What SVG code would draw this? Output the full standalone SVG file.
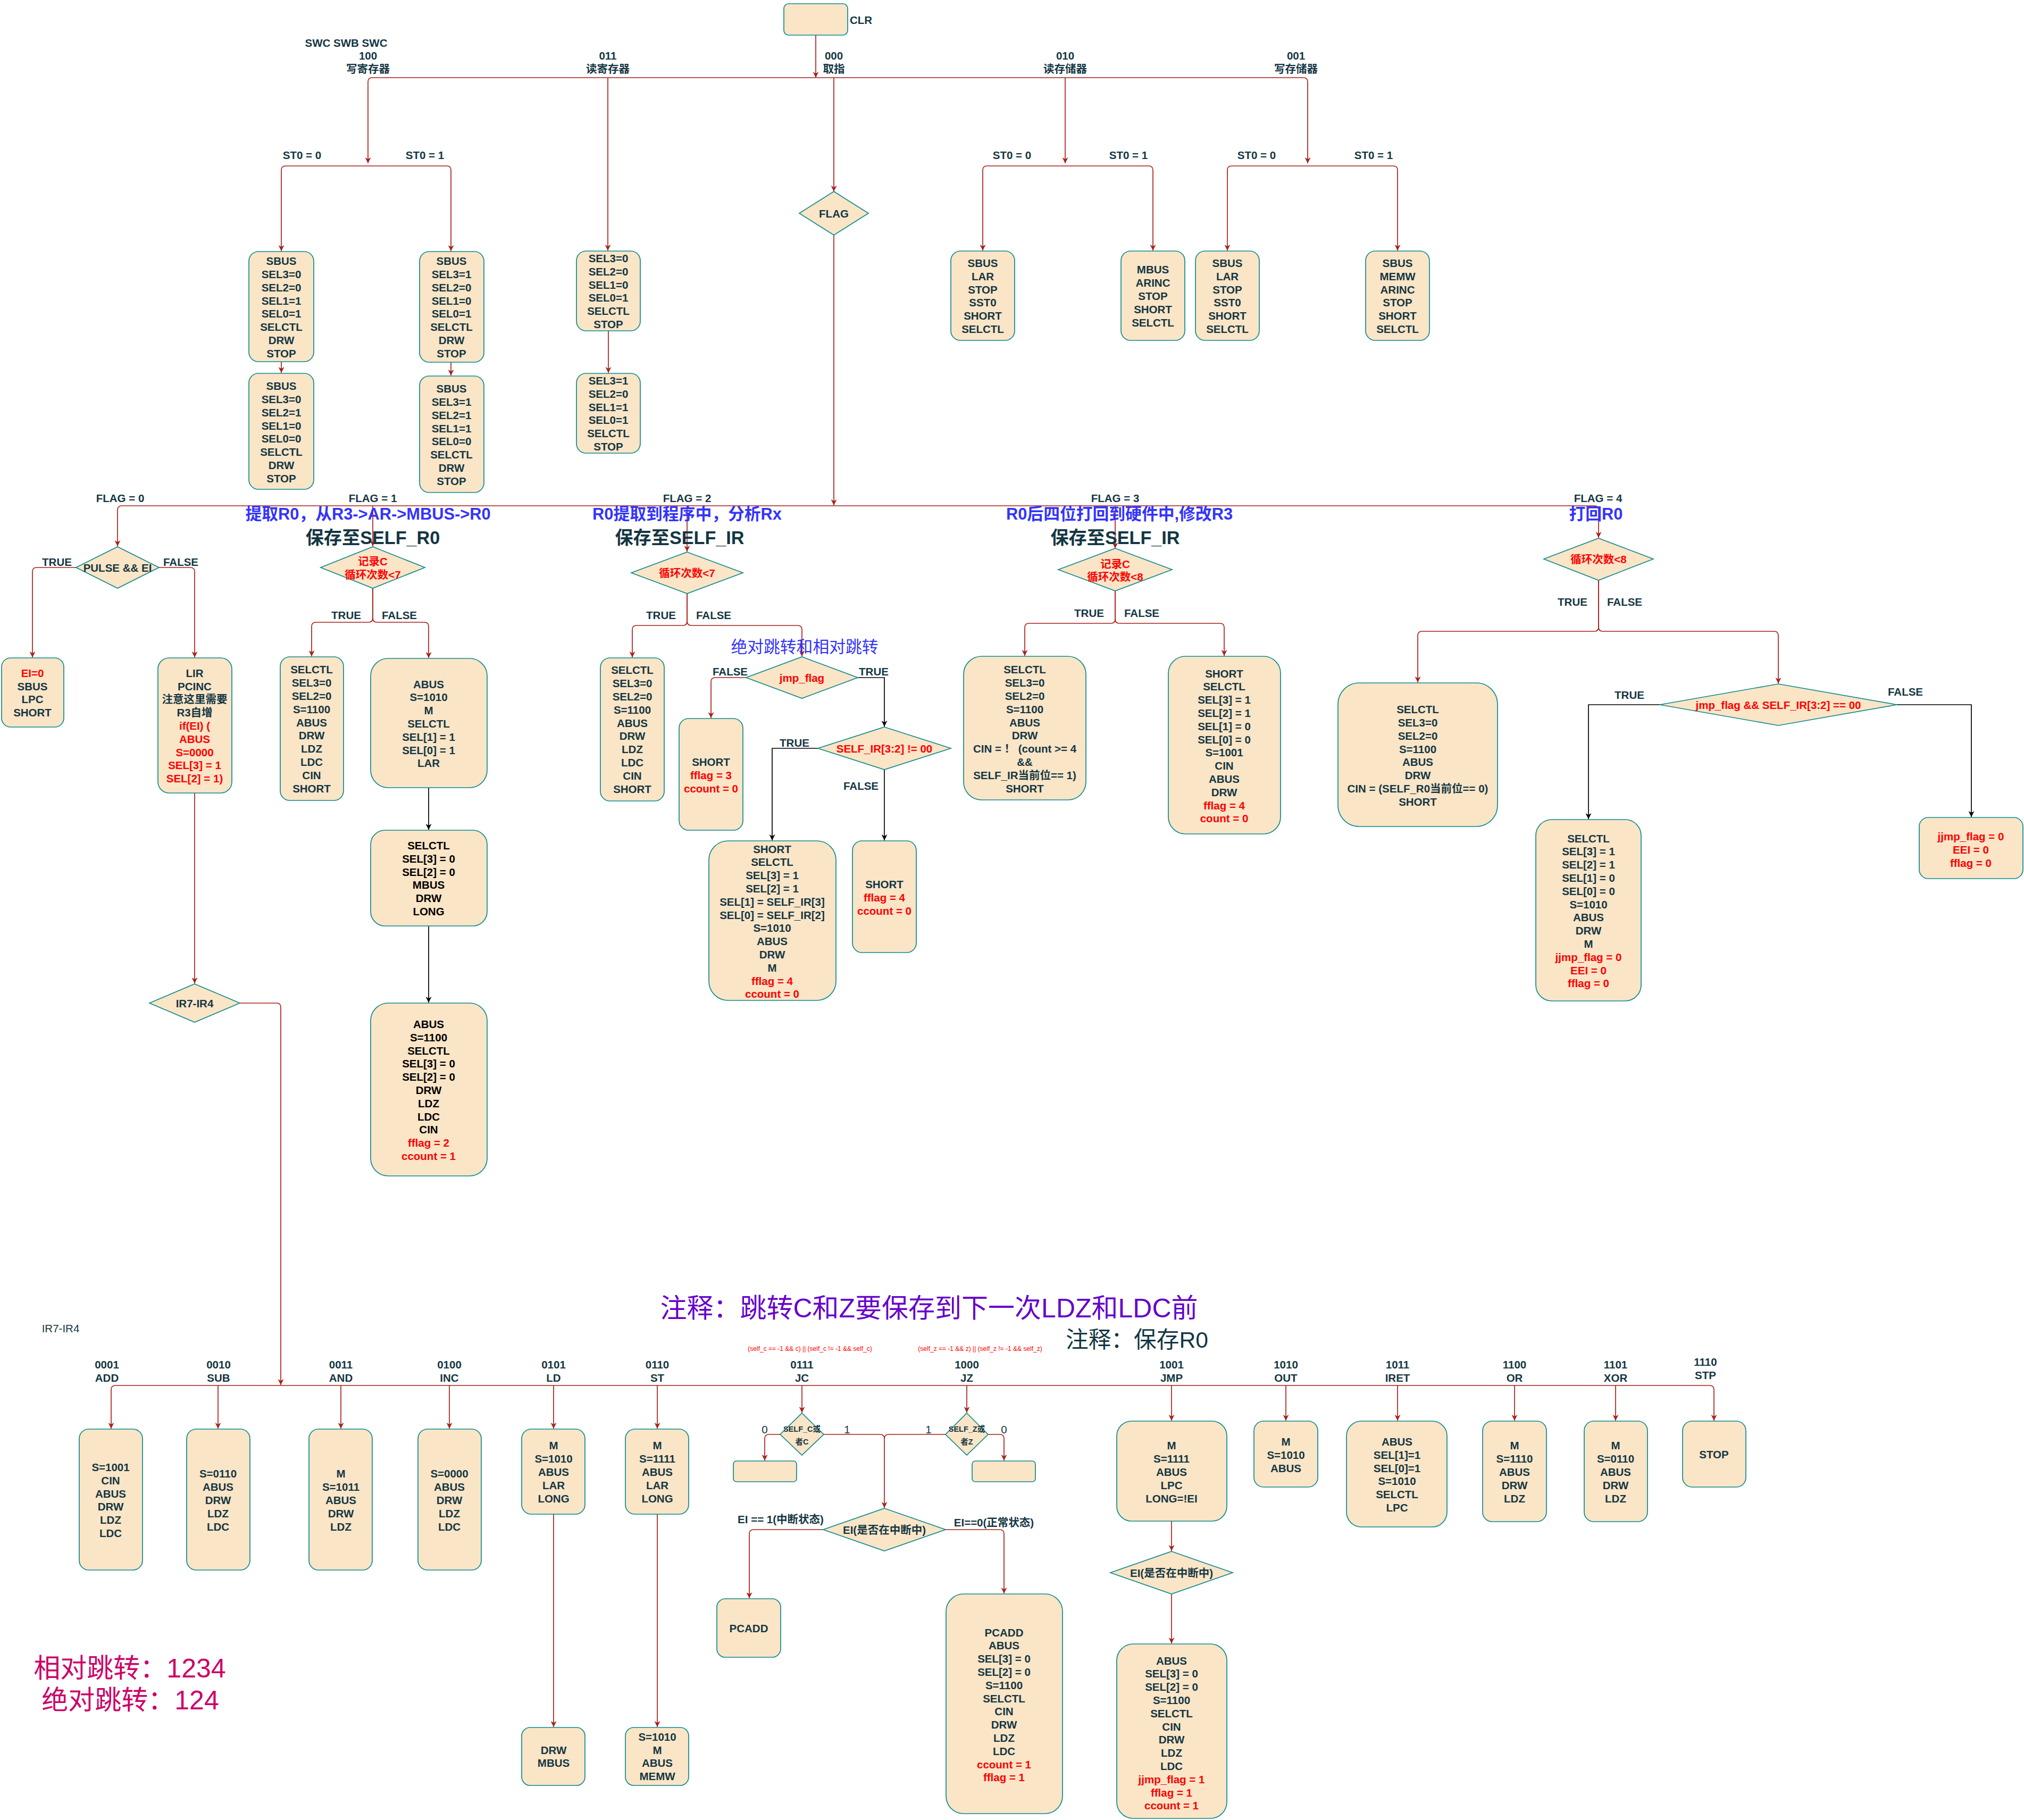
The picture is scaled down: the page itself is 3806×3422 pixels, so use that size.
<svg xmlns="http://www.w3.org/2000/svg" width="3806" height="3422" viewBox="0 0 3806 3422">
<defs>
<marker id="a" viewBox="0 0 10 10" refX="10" refY="5" markerWidth="11" markerHeight="11" markerUnits="userSpaceOnUse" orient="auto"><path d="M0,0 L10,5 L0,10 L3,5 z" fill="#A8201A"/></marker>
<marker id="ab" viewBox="0 0 10 10" refX="10" refY="5" markerWidth="11" markerHeight="11" markerUnits="userSpaceOnUse" orient="auto"><path d="M0,0 L10,5 L0,10 L3,5 z" fill="#000"/></marker>
<style>
.nd rect,.nd polygon{fill:#FAE5C7;stroke:#0F8B8D;stroke-width:1.7}
text,tspan{font-family:"Liberation Sans","Noto Sans CJK SC",sans-serif;font-size:20.5px;font-weight:bold;fill:#143642;text-anchor:middle;dominant-baseline:central}
.red{fill:#FF0000}
.blk{fill:#000}
.rg{font-weight:normal}
.blue{fill:#3333FF;font-size:30.8px}
.big{font-size:34.2px}
.sm{font-size:14.5px}
.e path{fill:none;stroke:#A8201A;stroke-width:1.7;marker-end:url(#a)}
.e path.b{stroke:#000;marker-end:url(#ab)}
.e path.nm{marker-end:none}
</style>
</defs>
<rect width="3806" height="3422" fill="#fff"/>
<g id="connectors" class="e">
<path d="M1534,66 V146"/>
<path d="M1534,146 H700 Q692,146 692,154 V307"/>
<path d="M1534,146 H2451 Q2459,146 2459,154 V307"/>
<path d="M1143,146 V471"/>
<path d="M1568,146 V360"/>
<path d="M2003,146 V307"/>
<path d="M692,312 H537 Q529,312 529,320 V472"/>
<path d="M692,312 H840 Q848,312 848,320 V472"/>
<path d="M2003,312 H1856 Q1848,312 1848,320 V471"/>
<path d="M2003,312 H2160 Q2168,312 2168,320 V471"/>
<path d="M2459,312 H2316 Q2308,312 2308,320 V471"/>
<path d="M2459,312 H2620 Q2628,312 2628,320 V471"/>
<path d="M529,680 V701"/>
<path d="M848,681 V706"/>
<path d="M1144,622 V701"/>
<path d="M1568,442 V950"/>
<path d="M1568,951 H229 Q221,951 221,959 V1027"/>
<path d="M1568,951 H2998 Q3006,951 3006,959 V1011"/>
<path d="M701,951 V1027"/>
<path d="M1292,951 V1037"/>
<path d="M2097,951 V1031"/>
<path d="M143,1067 H69 Q61,1067 61,1075 V1236"/>
<path d="M299,1067 H358 Q366,1067 366,1075 V1236"/>
<path d="M366,1491 V1849"/>
<path d="M451,1886 H520 Q528,1886 528,1894 V2604"/>
<path d="M701,1106 V1162 Q701,1170 693,1170 H594 Q586,1170 586,1178 V1234"/>
<path d="M701,1106 V1162 Q701,1170 709,1170 H798 Q806,1170 806,1178 V1237"/>
<path class="b" d="M806,1481 V1560"/>
<path class="b" d="M806,1741 V1885"/>
<path d="M1292,1116 V1168 Q1292,1176 1284,1176 H1197 Q1189,1176 1189,1184 V1236"/>
<path d="M1292,1116 V1168 Q1292,1176 1300,1176 H1500 Q1508,1176 1508,1184 V1234"/>
<path d="M1403,1274 H1345 Q1337,1274 1337,1282 V1350"/>
<path class="b" d="M1613,1274 H1663 V1366"/>
<path class="b" d="M1538,1407 H1452 V1580"/>
<path class="b" d="M1663,1447 V1580"/>
<path d="M2097,1111 V1164 Q2097,1172 2089,1172 H1935 Q1927,1172 1927,1180 V1233"/>
<path d="M2097,1111 V1164 Q2097,1172 2105,1172 H2294 Q2302,1172 2302,1180 V1233"/>
<path d="M3006,1091 V1179 Q3006,1187 2998,1187 H2674 Q2666,1187 2666,1195 V1283"/>
<path d="M3006,1091 V1179 Q3006,1187 3014,1187 H3336 Q3344,1187 3344,1195 V1285"/>
<path class="b" d="M3121,1325 H2987 V1540"/>
<path class="b" d="M3567,1325 H3707 V1536"/>
<path d="M528,2605 H217 Q209,2605 209,2613 V2686"/>
<path d="M528,2605 H3215 Q3223,2605 3223,2613 V2671"/>
<path d="M410,2605 V2686"/>
<path d="M641,2605 V2686"/>
<path d="M845,2605 V2686"/>
<path d="M1041,2605 V2686"/>
<path d="M1236,2605 V2686"/>
<path d="M1508,2605 V2656"/>
<path d="M1818,2605 V2656"/>
<path d="M2203,2605 V2671"/>
<path d="M2418,2605 V2671"/>
<path d="M2628,2605 V2671"/>
<path d="M2848,2605 V2671"/>
<path d="M3038,2605 V2671"/>
<path d="M1041,2847 V3247"/>
<path d="M1236,2847 V3247"/>
<path d="M1467,2697 H1446 Q1438,2697 1438,2705 V2746"/>
<path d="M1549,2697 H1655 Q1663,2697 1663,2705 V2835"/>
<path class="nm" d="M1778,2697 H1671 Q1663,2697 1663,2705"/>
<path d="M1858,2697 H1880 Q1888,2697 1888,2705 V2746"/>
<path d="M1548,2876 H1417 Q1409,2876 1409,2884 V3005"/>
<path d="M1778,2876 H1880 Q1888,2876 1888,2884 V2996"/>
<path d="M2203,2860 V2916"/>
<path d="M2203,2997 V3090"/>
</g>
<g id="edge-labels">
<text x="568" y="291">ST0 = 0</text><text x="799" y="291">ST0 = 1</text>
<text x="1903" y="291">ST0 = 0</text><text x="2122" y="291">ST0 = 1</text>
<text x="2363" y="291">ST0 = 0</text><text x="2583" y="291">ST0 = 1</text>
<text x="651" y="80">SWC SWB SWC</text><text x="692" y="104">100</text><text x="692" y="129">写寄存器</text>
<text x="1143" y="104">011</text><text x="1143" y="129">读寄存器</text>
<text x="1568" y="104">000</text><text x="1568" y="129">取指</text>
<text x="2003" y="104">010</text><text x="2003" y="129">读存储器</text>
<text x="2437" y="104">001</text><text x="2437" y="129">写存储器</text>
<text x="226" y="936">FLAG = 0</text><text x="701" y="936">FLAG = 1</text><text x="1292" y="936">FLAG = 2</text><text x="2097" y="936">FLAG = 3</text><text x="3005" y="936">FLAG = 4</text>
<text x="107" y="1056">TRUE</text><text x="340" y="1056">FALSE</text>
<text x="651" y="1156">TRUE</text><text x="751" y="1156">FALSE</text>
<text x="1243" y="1156">TRUE</text><text x="1342" y="1156">FALSE</text>
<text x="1373" y="1262">FALSE</text><text x="1643" y="1262">TRUE</text>
<text x="1494" y="1396">TRUE</text><text x="1619" y="1477">FALSE</text>
<text x="2048" y="1152">TRUE</text><text x="2147" y="1152">FALSE</text>
<text x="2957" y="1131">TRUE</text><text x="3055" y="1131">FALSE</text>
<text x="3064" y="1306">TRUE</text><text x="3583" y="1300">FALSE</text>
<text x="201" y="2565">0001</text><text x="201" y="2590">ADD</text>
<text x="411" y="2565">0010</text><text x="411" y="2590">SUB</text>
<text x="641" y="2565">0011</text><text x="641" y="2590">AND</text>
<text x="845" y="2565">0100</text><text x="845" y="2590">INC</text>
<text x="1041" y="2565">0101</text><text x="1041" y="2590">LD</text>
<text x="1236" y="2565">0110</text><text x="1236" y="2590">ST</text>
<text x="1508" y="2565">0111</text><text x="1508" y="2590">JC</text>
<text x="1818" y="2565">1000</text><text x="1818" y="2590">JZ</text>
<text x="2203" y="2565">1001</text><text x="2203" y="2590">JMP</text>
<text x="2418" y="2565">1010</text><text x="2418" y="2590">OUT</text>
<text x="2628" y="2565">1011</text><text x="2628" y="2590">IRET</text>
<text x="2848" y="2565">1100</text><text x="2848" y="2590">OR</text>
<text x="3038" y="2565">1101</text><text x="3038" y="2590">XOR</text>
<text x="3207" y="2560">1110</text><text x="3207" y="2585">STP</text>
<text class="rg" x="1438" y="2687">0</text><text class="rg" x="1593" y="2687">1</text>
<text class="rg" x="1746" y="2687">1</text><text class="rg" x="1888" y="2687">0</text>
<text x="1468" y="2856">EI == 1(中断状态)</text><text x="1869" y="2862">EI==0(正常状态)</text>
</g>
<g id="annotations">
<text class="blue" x="692" y="966">提取R0，从R3-&gt;AR-&gt;MBUS-&gt;R0</text>
<text class="big" x="701" y="1011">保存至SELF_R0</text>
<text class="blue" x="1292" y="966">R0提取到程序中，分析Rx</text>
<text class="big" x="1278" y="1011">保存至SELF_IR</text>
<text class="blue" x="2105" y="966">R0后四位打回到硬件中,修改R3</text>
<text class="big" x="2097" y="1011">保存至SELF_IR</text>
<text class="blue" x="3001" y="966">打回R0</text>
<text class="rg" x="1513" y="1216" style="fill:#3333FF;font-size:30.8px">绝对跳转和相对跳转</text>
<text class="rg" x="114" y="2497">IR7-IR4</text>
<text class="rg" x="1747" y="2460" style="fill:#6600CC;font-size:50px">注释：跳转C和Z要保存到下一次LDZ和LDC前</text>
<text class="rg" x="2138" y="2519" style="font-size:42.7px">注释：保存R0</text>
<text class="rg" x="1523" y="2536" style="fill:#FF0000;font-size:12px">(self_c == -1 &amp;&amp; c) || (self_c != -1 &amp;&amp; self_c)</text>
<text class="rg" x="1843" y="2536" style="fill:#FF0000;font-size:12px">(self_z == -1 &amp;&amp; z) || (self_z != -1 &amp;&amp; self_z)</text>
<text class="rg" x="244" y="3137" style="fill:#CC0066;font-size:50px">相对跳转：1234</text>
<text class="rg" x="245" y="3197" style="fill:#CC0066;font-size:50px">绝对跳转：124</text>
</g>
<g id="nodes">
<g id="clr" class="nd"><rect x="1474" y="7" width="120" height="59" rx="9"/><text x="1598" y="37" style="text-anchor:start">CLR</text></g>
<g id="w100a" class="nd"><rect x="468" y="473" width="122" height="207" rx="18"/><text><tspan x="529" y="490.2">SBUS</tspan><tspan x="529" dy="24.8">SEL3=0</tspan><tspan x="529" dy="24.8">SEL2=0</tspan><tspan x="529" dy="24.8">SEL1=1</tspan><tspan x="529" dy="24.8">SEL0=1</tspan><tspan x="529" dy="24.8">SELCTL</tspan><tspan x="529" dy="24.8">DRW</tspan><tspan x="529" dy="24.8">STOP</tspan></text></g>
<g id="w100b" class="nd"><rect x="468" y="702" width="122" height="218" rx="18"/><text><tspan x="529" y="725.2">SBUS</tspan><tspan x="529" dy="24.8">SEL3=0</tspan><tspan x="529" dy="24.8">SEL2=1</tspan><tspan x="529" dy="24.8">SEL1=0</tspan><tspan x="529" dy="24.8">SEL0=0</tspan><tspan x="529" dy="24.8">SELCTL</tspan><tspan x="529" dy="24.8">DRW</tspan><tspan x="529" dy="24.8">STOP</tspan></text></g>
<g id="w100c" class="nd"><rect x="789" y="473" width="121" height="208" rx="18"/><text><tspan x="849" y="490.2">SBUS</tspan><tspan x="849" dy="24.8">SEL3=1</tspan><tspan x="849" dy="24.8">SEL2=0</tspan><tspan x="849" dy="24.8">SEL1=0</tspan><tspan x="849" dy="24.8">SEL0=1</tspan><tspan x="849" dy="24.8">SELCTL</tspan><tspan x="849" dy="24.8">DRW</tspan><tspan x="849" dy="24.8">STOP</tspan></text></g>
<g id="w100d" class="nd"><rect x="789" y="707" width="121" height="219" rx="18"/><text><tspan x="849" y="730.2">SBUS</tspan><tspan x="849" dy="24.8">SEL3=1</tspan><tspan x="849" dy="24.8">SEL2=1</tspan><tspan x="849" dy="24.8">SEL1=1</tspan><tspan x="849" dy="24.8">SEL0=0</tspan><tspan x="849" dy="24.8">SELCTL</tspan><tspan x="849" dy="24.8">DRW</tspan><tspan x="849" dy="24.8">STOP</tspan></text></g>
<g id="r011a" class="nd"><rect x="1084" y="472" width="120" height="150" rx="18"/><text><tspan x="1144" y="485">SEL3=0</tspan><tspan x="1144" dy="24.8">SEL2=0</tspan><tspan x="1144" dy="24.8">SEL1=0</tspan><tspan x="1144" dy="24.8">SEL0=1</tspan><tspan x="1144" dy="24.8">SELCTL</tspan><tspan x="1144" dy="24.8">STOP</tspan></text></g>
<g id="r011b" class="nd"><rect x="1084" y="702" width="120" height="150" rx="18"/><text><tspan x="1144" y="715">SEL3=1</tspan><tspan x="1144" dy="24.8">SEL2=0</tspan><tspan x="1144" dy="24.8">SEL1=1</tspan><tspan x="1144" dy="24.8">SEL0=1</tspan><tspan x="1144" dy="24.8">SELCTL</tspan><tspan x="1144" dy="24.8">STOP</tspan></text></g>
<g id="flag" class="nd"><polygon points="1568,360 1633,401 1568,442 1503,401"/><text x="1568" y="401">FLAG</text></g>
<g id="m010a" class="nd"><rect x="1788" y="472" width="120" height="168" rx="18"/><text><tspan x="1848" y="494">SBUS</tspan><tspan x="1848" dy="24.8">LAR</tspan><tspan x="1848" dy="24.8">STOP</tspan><tspan x="1848" dy="24.8">SST0</tspan><tspan x="1848" dy="24.8">SHORT</tspan><tspan x="1848" dy="24.8">SELCTL</tspan></text></g>
<g id="m010b" class="nd"><rect x="2108" y="472" width="120" height="168" rx="18"/><text><tspan x="2168" y="506.4">MBUS</tspan><tspan x="2168" dy="24.8">ARINC</tspan><tspan x="2168" dy="24.8">STOP</tspan><tspan x="2168" dy="24.8">SHORT</tspan><tspan x="2168" dy="24.8">SELCTL</tspan></text></g>
<g id="m001a" class="nd"><rect x="2248" y="472" width="120" height="168" rx="18"/><text><tspan x="2308" y="494">SBUS</tspan><tspan x="2308" dy="24.8">LAR</tspan><tspan x="2308" dy="24.8">STOP</tspan><tspan x="2308" dy="24.8">SST0</tspan><tspan x="2308" dy="24.8">SHORT</tspan><tspan x="2308" dy="24.8">SELCTL</tspan></text></g>
<g id="m001b" class="nd"><rect x="2568" y="472" width="120" height="168" rx="18"/><text><tspan x="2628" y="494">SBUS</tspan><tspan x="2628" dy="24.8">MEMW</tspan><tspan x="2628" dy="24.8">ARINC</tspan><tspan x="2628" dy="24.8">STOP</tspan><tspan x="2628" dy="24.8">SHORT</tspan><tspan x="2628" dy="24.8">SELCTL</tspan></text></g>
<g id="pulse" class="nd"><polygon points="221,1028 299,1067 221,1106 143,1067"/><text x="221" y="1067">PULSE &amp;&amp; EI</text></g>
<g id="ei0" class="nd"><rect x="3" y="1237" width="117" height="130" rx="17"/><text><tspan x="61" y="1264.8" class="red">EI=0</tspan><tspan x="61" dy="24.8">SBUS</tspan><tspan x="61" dy="24.8">LPC</tspan><tspan x="61" dy="24.8">SHORT</tspan></text></g>
<g id="lir" class="nd"><rect x="297" y="1237" width="139" height="254" rx="21"/><text><tspan x="366" y="1264.8">LIR</tspan><tspan x="366" dy="24.8">PCINC</tspan><tspan x="366" dy="24.8">注意这里需要</tspan><tspan x="366" dy="24.8">R3自增</tspan><tspan x="366" dy="24.8" class="red">if(EI) (</tspan><tspan x="366" dy="24.8" class="red">ABUS</tspan><tspan x="366" dy="24.8" class="red">S=0000</tspan><tspan x="366" dy="24.8" class="red">SEL[3] = 1</tspan><tspan x="366" dy="24.8" class="red">SEL[2] = 1)</tspan></text></g>
<g id="ir74" class="nd"><polygon points="366,1850 451,1886 366,1922 281,1886"/><text x="366" y="1886">IR7-IR4</text></g>
<g id="f1d" class="nd"><polygon points="701,1028 799,1067 701,1106 603,1067"/><text class="red"><tspan x="701" y="1055" class="red">记录C</tspan><tspan x="701" y="1080" class="red">循环次数&lt;7</tspan></text></g>
<g id="f1t" class="nd"><rect x="527" y="1235" width="119" height="270" rx="18"/><text><tspan x="586" y="1258.4">SELCTL</tspan><tspan x="586" dy="24.8">SEL3=0</tspan><tspan x="586" dy="24.8">SEL2=0</tspan><tspan x="586" dy="24.8">S=1100</tspan><tspan x="586" dy="24.8">ABUS</tspan><tspan x="586" dy="24.8">DRW</tspan><tspan x="586" dy="24.8">LDZ</tspan><tspan x="586" dy="24.8">LDC</tspan><tspan x="586" dy="24.8">CIN</tspan><tspan x="586" dy="24.8">SHORT</tspan></text></g>
<g id="f1f" class="nd"><rect x="697" y="1238" width="219" height="243" rx="33"/><text><tspan x="806" y="1285.6">ABUS</tspan><tspan x="806" dy="24.8">S=1010</tspan><tspan x="806" dy="24.8">M</tspan><tspan x="806" dy="24.8">SELCTL</tspan><tspan x="806" dy="24.8">SEL[1] = 1</tspan><tspan x="806" dy="24.8">SEL[0] = 1</tspan><tspan x="806" dy="24.8">LAR</tspan></text></g>
<g id="f1f2" class="nd"><rect x="697" y="1561" width="219" height="180" rx="27"/><text class="blk"><tspan class="blk" x="806" y="1589">SELCTL</tspan><tspan class="blk" x="806" dy="24.8">SEL[3] = 0</tspan><tspan class="blk" x="806" dy="24.8">SEL[2] = 0</tspan><tspan class="blk" x="806" dy="24.8">MBUS</tspan><tspan class="blk" x="806" dy="24.8">DRW</tspan><tspan class="blk" x="806" dy="24.8">LONG</tspan></text></g>
<g id="f1f3" class="nd"><rect x="697" y="1886" width="219" height="325" rx="33"/><text><tspan class="blk" x="806" y="1925">ABUS</tspan><tspan class="blk" x="806" dy="24.8">S=1100</tspan><tspan class="blk" x="806" dy="24.8">SELCTL</tspan><tspan class="blk" x="806" dy="24.8">SEL[3] = 0</tspan><tspan class="blk" x="806" dy="24.8">SEL[2] = 0</tspan><tspan class="blk" x="806" dy="24.8">DRW</tspan><tspan class="blk" x="806" dy="24.8">LDZ</tspan><tspan class="blk" x="806" dy="24.8">LDC</tspan><tspan class="blk" x="806" dy="24.8">CIN</tspan><tspan class="red" x="806" dy="24.8">fflag = 2</tspan><tspan class="red" x="806" dy="24.8">ccount = 1</tspan></text></g>
<g id="f2d" class="nd"><polygon points="1292,1038 1397,1077 1292,1116 1187,1077"/><text class="red" x="1292" y="1077">循环次数&lt;7</text></g>
<g id="f2t" class="nd"><rect x="1129" y="1237" width="120" height="269" rx="18"/><text><tspan x="1189" y="1259.4">SELCTL</tspan><tspan x="1189" dy="24.8">SEL3=0</tspan><tspan x="1189" dy="24.8">SEL2=0</tspan><tspan x="1189" dy="24.8">S=1100</tspan><tspan x="1189" dy="24.8">ABUS</tspan><tspan x="1189" dy="24.8">DRW</tspan><tspan x="1189" dy="24.8">LDZ</tspan><tspan x="1189" dy="24.8">LDC</tspan><tspan x="1189" dy="24.8">CIN</tspan><tspan x="1189" dy="24.8">SHORT</tspan></text></g>
<g id="jmpd" class="nd"><polygon points="1508,1235 1613,1274 1508,1313 1403,1274"/><text class="red" x="1508" y="1274">jmp_flag</text></g>
<g id="f2f" class="nd"><rect x="1277" y="1351" width="120" height="210" rx="18"/><text><tspan x="1337" y="1432.2">SHORT</tspan><tspan class="red" x="1337" dy="24.8">fflag = 3</tspan><tspan class="red" x="1337" dy="24.8">ccount = 0</tspan></text></g>
<g id="ir32d" class="nd"><polygon points="1663,1367 1788,1407 1663,1447 1538,1407"/><text class="red" x="1663" y="1407">SELF_IR[3:2] != 00</text></g>
<g id="f2big" class="nd"><rect x="1333" y="1581" width="239" height="300" rx="36"/><text><tspan x="1452" y="1595.6">SHORT</tspan><tspan x="1452" dy="24.8">SELCTL</tspan><tspan x="1452" dy="24.8">SEL[3] = 1</tspan><tspan x="1452" dy="24.8">SEL[2] = 1</tspan><tspan x="1452" dy="24.8">SEL[1] = SELF_IR[3]</tspan><tspan x="1452" dy="24.8">SEL[0] = SELF_IR[2]</tspan><tspan x="1452" dy="24.8">S=1010</tspan><tspan x="1452" dy="24.8">ABUS</tspan><tspan x="1452" dy="24.8">DRW</tspan><tspan x="1452" dy="24.8">M</tspan><tspan class="red" x="1452" dy="24.8">fflag = 4</tspan><tspan class="red" x="1452" dy="24.8">ccount = 0</tspan></text></g>
<g id="f2r" class="nd"><rect x="1603" y="1581" width="120" height="210" rx="18"/><text><tspan x="1663" y="1662.2">SHORT</tspan><tspan class="red" x="1663" dy="24.8">fflag = 4</tspan><tspan class="red" x="1663" dy="24.8">ccount = 0</tspan></text></g>
<g id="f3d" class="nd"><polygon points="2097,1031 2204,1071 2097,1111 1990,1071"/><text><tspan class="red" x="2097" y="1060">记录C</tspan><tspan class="red" x="2097" y="1084">循环次数&lt;8</tspan></text></g>
<g id="f3t" class="nd"><rect x="1812" y="1234" width="230" height="270" rx="34"/><text><tspan x="1927" y="1258.4">SELCTL</tspan><tspan x="1927" dy="24.8">SEL3=0</tspan><tspan x="1927" dy="24.8">SEL2=0</tspan><tspan x="1927" dy="24.8">S=1100</tspan><tspan x="1927" dy="24.8">ABUS</tspan><tspan x="1927" dy="24.8">DRW</tspan><tspan x="1927" dy="24.8">CIN = ！ (count &gt;= 4</tspan><tspan x="1927" dy="24.8">&amp;&amp;</tspan><tspan x="1927" dy="24.8">SELF_IR当前位== 1)</tspan><tspan x="1927" dy="24.8">SHORT</tspan></text></g>
<g id="f3f" class="nd"><rect x="2197" y="1234" width="211" height="334" rx="32"/><text><tspan x="2302" y="1265.6">SHORT</tspan><tspan x="2302" dy="24.8">SELCTL</tspan><tspan x="2302" dy="24.8">SEL[3] = 1</tspan><tspan x="2302" dy="24.8">SEL[2] = 1</tspan><tspan x="2302" dy="24.8">SEL[1] = 0</tspan><tspan x="2302" dy="24.8">SEL[0] = 0</tspan><tspan x="2302" dy="24.8">S=1001</tspan><tspan x="2302" dy="24.8">CIN</tspan><tspan x="2302" dy="24.8">ABUS</tspan><tspan x="2302" dy="24.8">DRW</tspan><tspan class="red" x="2302" dy="24.8">fflag = 4</tspan><tspan class="red" x="2302" dy="24.8">count = 0</tspan></text></g>
<g id="f4d" class="nd"><polygon points="3006,1012 3109,1051 3006,1091 2903,1051"/><text class="red" x="3006" y="1051">循环次数&lt;8</text></g>
<g id="f4t" class="nd"><rect x="2516" y="1284" width="300" height="270" rx="40"/><text><tspan x="2666" y="1333.2">SELCTL</tspan><tspan x="2666" dy="24.8">SEL3=0</tspan><tspan x="2666" dy="24.8">SEL2=0</tspan><tspan x="2666" dy="24.8">S=1100</tspan><tspan x="2666" dy="24.8">ABUS</tspan><tspan x="2666" dy="24.8">DRW</tspan><tspan x="2666" dy="24.8">CIN = (SELF_R0当前位== 0)</tspan><tspan x="2666" dy="24.8">SHORT</tspan></text></g>
<g id="f4fd" class="nd"><polygon points="3344,1286 3567,1325 3344,1364 3121,1325"/><text class="red" x="3344" y="1325">jmp_flag &amp;&amp; SELF_IR[3:2] == 00</text></g>
<g id="f4tt" class="nd"><rect x="2888" y="1541" width="198" height="341" rx="30"/><text><tspan x="2987" y="1575.6">SELCTL</tspan><tspan x="2987" dy="24.8">SEL[3] = 1</tspan><tspan x="2987" dy="24.8">SEL[2] = 1</tspan><tspan x="2987" dy="24.8">SEL[1] = 0</tspan><tspan x="2987" dy="24.8">SEL[0] = 0</tspan><tspan x="2987" dy="24.8">S=1010</tspan><tspan x="2987" dy="24.8">ABUS</tspan><tspan x="2987" dy="24.8">DRW</tspan><tspan x="2987" dy="24.8">M</tspan><tspan class="red" x="2987" dy="24.8">jjmp_flag = 0</tspan><tspan class="red" x="2987" dy="24.8">EEI = 0</tspan><tspan class="red" x="2987" dy="24.8">fflag = 0</tspan></text></g>
<g id="f4ff" class="nd"><rect x="3609" y="1537" width="195" height="115" rx="17"/><text><tspan class="red" x="3706" y="1572.2">jjmp_flag = 0</tspan><tspan class="red" x="3706" dy="24.8">EEI = 0</tspan><tspan class="red" x="3706" dy="24.8">fflag = 0</tspan></text></g>
<g id="add" class="nd"><rect x="149" y="2687" width="119" height="265" rx="18"/><text><tspan x="208" y="2758">S=1001</tspan><tspan x="208" dy="24.8">CIN</tspan><tspan x="208" dy="24.8">ABUS</tspan><tspan x="208" dy="24.8">DRW</tspan><tspan x="208" dy="24.8">LDZ</tspan><tspan x="208" dy="24.8">LDC</tspan></text></g>
<g id="sub" class="nd"><rect x="351" y="2687" width="119" height="265" rx="18"/><text><tspan x="410" y="2770.4">S=0110</tspan><tspan x="410" dy="24.8">ABUS</tspan><tspan x="410" dy="24.8">DRW</tspan><tspan x="410" dy="24.8">LDZ</tspan><tspan x="410" dy="24.8">LDC</tspan></text></g>
<g id="and" class="nd"><rect x="581" y="2687" width="119" height="265" rx="18"/><text><tspan x="641" y="2770.4">M</tspan><tspan x="641" dy="24.8">S=1011</tspan><tspan x="641" dy="24.8">ABUS</tspan><tspan x="641" dy="24.8">DRW</tspan><tspan x="641" dy="24.8">LDZ</tspan></text></g>
<g id="inc" class="nd"><rect x="786" y="2687" width="119" height="265" rx="18"/><text><tspan x="845" y="2770.4">S=0000</tspan><tspan x="845" dy="24.8">ABUS</tspan><tspan x="845" dy="24.8">DRW</tspan><tspan x="845" dy="24.8">LDZ</tspan><tspan x="845" dy="24.8">LDC</tspan></text></g>
<g id="ld" class="nd"><rect x="981" y="2687" width="119" height="160" rx="18"/><text><tspan x="1041" y="2717.4">M</tspan><tspan x="1041" dy="24.8">S=1010</tspan><tspan x="1041" dy="24.8">ABUS</tspan><tspan x="1041" dy="24.8">LAR</tspan><tspan x="1041" dy="24.8">LONG</tspan></text></g>
<g id="st" class="nd"><rect x="1176" y="2687" width="119" height="160" rx="18"/><text><tspan x="1236" y="2717.4">M</tspan><tspan x="1236" dy="24.8">S=1111</tspan><tspan x="1236" dy="24.8">ABUS</tspan><tspan x="1236" dy="24.8">LAR</tspan><tspan x="1236" dy="24.8">LONG</tspan></text></g>
<g id="ld2" class="nd"><rect x="981" y="3248" width="119" height="109" rx="16"/><text><tspan x="1041" y="3289.6">DRW</tspan><tspan x="1041" dy="24.8">MBUS</tspan></text></g>
<g id="st2" class="nd"><rect x="1176" y="3248" width="119" height="109" rx="16"/><text><tspan x="1236" y="3264.8">S=1010</tspan><tspan x="1236" dy="24.8">M</tspan><tspan x="1236" dy="24.8">ABUS</tspan><tspan x="1236" dy="24.8">MEMW</tspan></text></g>
<g id="jcd" class="nd"><polygon points="1508,2657 1549,2697 1508,2736 1467,2697"/><text class="sm"><tspan class="sm" x="1508" y="2687">SELF_C或</tspan><tspan class="sm" x="1508" y="2711">者C</tspan></text></g>
<g id="jc0" class="nd"><rect x="1379" y="2747" width="119" height="39" rx="6"/></g>
<g id="jzd" class="nd"><polygon points="1818,2657 1858,2697 1818,2736 1778,2697"/><text class="sm"><tspan class="sm" x="1818" y="2687">SELF_Z或</tspan><tspan class="sm" x="1818" y="2711">者Z</tspan></text></g>
<g id="jz0" class="nd"><rect x="1828" y="2747" width="119" height="39" rx="6"/></g>
<g id="eid" class="nd"><polygon points="1663,2836 1778,2876 1663,2916 1548,2876"/><text x="1663" y="2876">EI(是否在中断中)</text></g>
<g id="pcadd" class="nd"><rect x="1348" y="3006" width="120" height="110" rx="16"/><text x="1408" y="3061">PCADD</text></g>
<g id="pcadd2" class="nd"><rect x="1779" y="2997" width="219" height="413" rx="33"/><text><tspan x="1888" y="3068.6">PCADD</tspan><tspan x="1888" dy="24.8">ABUS</tspan><tspan x="1888" dy="24.8">SEL[3] = 0</tspan><tspan x="1888" dy="24.8">SEL[2] = 0</tspan><tspan x="1888" dy="24.8">S=1100</tspan><tspan x="1888" dy="24.8">SELCTL</tspan><tspan x="1888" dy="24.8">CIN</tspan><tspan x="1888" dy="24.8">DRW</tspan><tspan x="1888" dy="24.8">LDZ</tspan><tspan x="1888" dy="24.8">LDC</tspan><tspan class="red" x="1888" dy="24.8">ccount = 1</tspan><tspan class="red" x="1888" dy="24.8">fflag = 1</tspan></text></g>
<g id="jmp" class="nd"><rect x="2100" y="2672" width="207" height="188" rx="28"/><text><tspan x="2203" y="2717.4">M</tspan><tspan x="2203" dy="24.8">S=1111</tspan><tspan x="2203" dy="24.8">ABUS</tspan><tspan x="2203" dy="24.8">LPC</tspan><tspan x="2203" dy="24.8">LONG=!EI</tspan></text></g>
<g id="eid2" class="nd"><polygon points="2203,2917 2318,2957 2203,2997 2088,2957"/><text x="2203" y="2957">EI(是否在中断中)</text></g>
<g id="jmp2" class="nd"><rect x="2100" y="3091" width="207" height="328" rx="31"/><text><tspan x="2203" y="3121.6">ABUS</tspan><tspan x="2203" dy="24.8">SEL[3] = 0</tspan><tspan x="2203" dy="24.8">SEL[2] = 0</tspan><tspan x="2203" dy="24.8">S=1100</tspan><tspan x="2203" dy="24.8">SELCTL</tspan><tspan x="2203" dy="24.8">CIN</tspan><tspan x="2203" dy="24.8">DRW</tspan><tspan x="2203" dy="24.8">LDZ</tspan><tspan x="2203" dy="24.8">LDC</tspan><tspan class="red" x="2203" dy="24.8">jjmp_flag = 1</tspan><tspan class="red" x="2203" dy="24.8">fflag = 1</tspan><tspan class="red" x="2203" dy="24.8">ccount = 1</tspan></text></g>
<g id="out" class="nd"><rect x="2358" y="2672" width="120" height="124" rx="18"/><text><tspan x="2418" y="2710.2">M</tspan><tspan x="2418" dy="24.8">S=1010</tspan><tspan x="2418" dy="24.8">ABUS</tspan></text></g>
<g id="iret" class="nd"><rect x="2532" y="2672" width="189" height="199" rx="28"/><text><tspan x="2627" y="2710">ABUS</tspan><tspan x="2627" dy="24.8">SEL[1]=1</tspan><tspan x="2627" dy="24.8">SEL[0]=1</tspan><tspan x="2627" dy="24.8">S=1010</tspan><tspan x="2627" dy="24.8">SELCTL</tspan><tspan x="2627" dy="24.8">LPC</tspan></text></g>
<g id="or" class="nd"><rect x="2788" y="2672" width="120" height="189" rx="18"/><text><tspan x="2848" y="2717.4">M</tspan><tspan x="2848" dy="24.8">S=1110</tspan><tspan x="2848" dy="24.8">ABUS</tspan><tspan x="2848" dy="24.8">DRW</tspan><tspan x="2848" dy="24.8">LDZ</tspan></text></g>
<g id="xor" class="nd"><rect x="2979" y="2672" width="119" height="189" rx="18"/><text><tspan x="3038" y="2717.4">M</tspan><tspan x="3038" dy="24.8">S=0110</tspan><tspan x="3038" dy="24.8">ABUS</tspan><tspan x="3038" dy="24.8">DRW</tspan><tspan x="3038" dy="24.8">LDZ</tspan></text></g>
<g id="stp" class="nd"><rect x="3164" y="2672" width="119" height="124" rx="18"/><text x="3223" y="2734">STOP</text></g>
</g>
</svg>
